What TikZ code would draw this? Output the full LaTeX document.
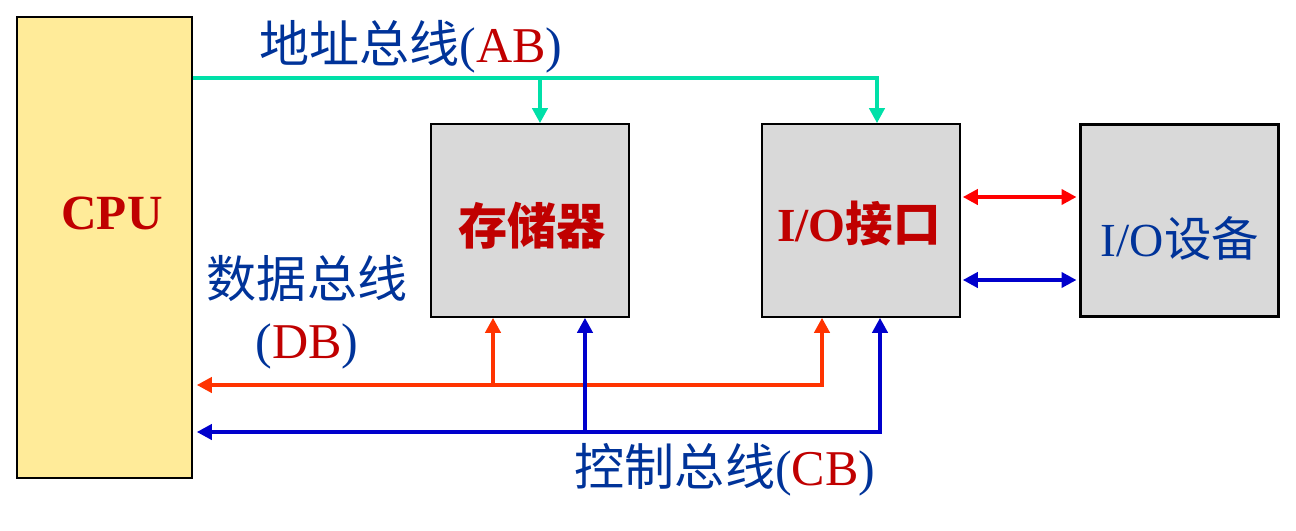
\documentclass[tikz,border=0pt]{standalone}
\usepackage{fontspec}
\setmainfont{Liberation Serif}
\newfontfamily\cjk{Noto Sans CJK SC}
\usetikzlibrary{arrows.meta, positioning, calc}
\definecolor{cpuyellow}{RGB}{255,235,153}
\definecolor{boxgray}{RGB}{217,217,217}
\definecolor{abgreen}{RGB}{0,224,168}
\definecolor{dborange}{RGB}{255,51,0}
\definecolor{cbblue}{RGB}{0,0,204}
\definecolor{txtblue}{RGB}{0,51,153}
\definecolor{txtred}{RGB}{192,0,0}

\begin{document}
\begin{tikzpicture}[x=0.02cm, y=-0.02cm,
  busarrow/.style={-{Triangle[width=0.3cm,length=0.3cm]}},
  twoway/.style={{Triangle[width=0.3cm,length=0.3cm]}-{Triangle[width=0.3cm,length=0.3cm]}},
  unit/.style={draw, line width=0.9pt, fill=boxgray, minimum width=3.96cm, minimum height=3.86cm, inner sep=0pt},
  bus/.style={line width=2.7pt},
  buslabel/.style={text=txtblue, font=\fontsize{28.5}{34.6}\selectfont, inner sep=0pt, align=center},
  unitlabel/.style={font=\fontsize{28}{30}\selectfont\bfseries, text=txtred}]
\useasboundingbox (0,0) rectangle (1296,531);

% units
\node[draw, line width=0.9pt, fill=cpuyellow, minimum width=3.5cm, minimum height=9.22cm] (cpu) at (104.5,247.5) {};
\node[unitlabel] (cpulabel) at (112,213) {CPU};
\node[unit] (mem) at (530,220.5) {};
\node[unit] (ioi) at (861,220.5) {};
\node[unit, line width=1.7pt, minimum width=3.98cm] (iod) at (1179.5,220.5) {};
\node[unitlabel] (memlabel) at (532,226) {\cjk 存储器};
\node[unitlabel, font=\fontsize{27}{30}\selectfont\bfseries] (ioilabel) at (859,224) {I/O{\cjk 接口}};
\node[buslabel, font=\fontsize{27}{30}\selectfont] (iodlabel) at (1180,238) {I/O{\cjk 设备}};

% bus rows
\coordinate (abus) at (0,78);
\coordinate (dbus) at (0,385);
\coordinate (cbus) at (0,432);
\coordinate (iored) at (0,197);
\coordinate (ioblue) at (0,280);

% address bus
\draw[bus, abgreen, busarrow] (cpu.east |- abus) -| ([xshift=0.32cm]ioi.north);
\draw[bus, abgreen, busarrow] ([xshift=0.2cm]mem.north |- abus) -- ([xshift=0.2cm]mem.north);

% data bus
\draw[bus, dborange, twoway] ([xshift=-0.78cm]ioi.south) |- ([xshift=0.08cm]cpu.east |- dbus);
\draw[bus, dborange, busarrow] ([xshift=-0.74cm]mem.south |- dbus) -- ([xshift=-0.74cm]mem.south);

% control bus
\draw[bus, cbblue, twoway] ([xshift=0.38cm]ioi.south) |- ([xshift=0.08cm]cpu.east |- cbus);
\draw[bus, cbblue, busarrow] ([xshift=1.1cm]mem.south |- cbus) -- ([xshift=1.1cm]mem.south);

% interface to device
\draw[bus, red, twoway] ([xshift=0.04cm]ioi.east |- iored) -- ([xshift=-0.04cm]iod.west |- iored);
\draw[bus, cbblue, twoway] ([xshift=0.04cm]ioi.east |- ioblue) -- ([xshift=-0.04cm]iod.west |- ioblue);

% bus names
\node[buslabel] (ablabel) at (411,47) {{\cjk 地址总线}(\textcolor{txtred}{AB})};
\node[buslabel] (dblabel) at (307,312) {{\cjk 数据总线}\\(\textcolor{txtred}{DB})};
\node[buslabel] (cblabel) at (725,470) {{\cjk 控制总线}(\textcolor{txtred}{CB})};
\end{tikzpicture}
\end{document}
